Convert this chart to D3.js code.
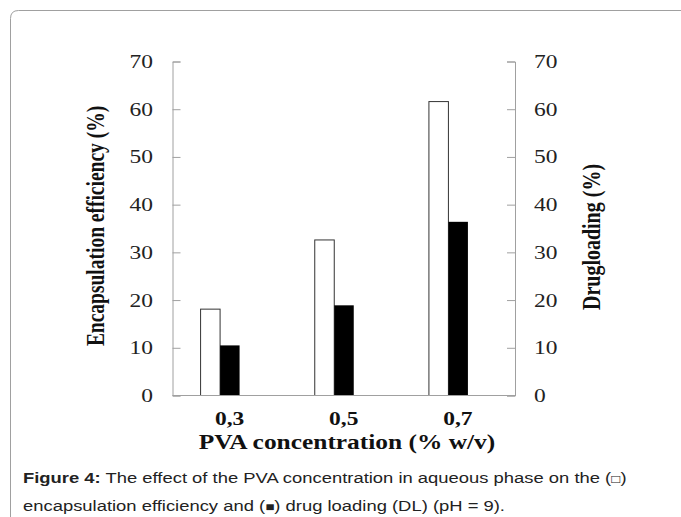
<!DOCTYPE html>
<html>
<head>
<meta charset="utf-8">
<script src="https://cdn.jsdelivr.net/npm/d3@7"></script>
<style>
html,body{margin:0;padding:0;background:#fff;}
svg{display:block;}
</style>
</head>
<body>
<svg id="chart" width="681" height="517"></svg>
<script>
// ---- data ----
const categories = ["0,3", "0,5", "0,7"];
const encapsulationEfficiency = [18.1, 32.6, 61.6];
const drugLoading = [10.5, 18.9, 36.4];
const yTicks = [0, 10, 20, 30, 40, 50, 60, 70];
const seriesNames = ["EE", "DL"];

const svg = d3.select("#chart");
const serif = "'Liberation Serif', 'Times New Roman', serif";
const sans = "'Liberation Sans', Arial, sans-serif";
const SX = 1.27; // horizontal stretch of the original figure's lettering

// frame
svg.append("path")
  .attr("d", "M10.5,700 L10.5,18.5 Q10.5,10.5 18.5,10.5 L700,10.5")
  .attr("fill", "none").attr("stroke", "#a0a0a0").attr("stroke-width", 1);

const pLeft = 172.5, pRight = 515, pTop = 61.5, pBottom = 395.5;

const x = d3.scaleBand().domain(categories).range([pLeft, pRight]).padding(0);
const yL = d3.scaleLinear().domain([0, 70]).range([pBottom, pTop]);
const yR = d3.scaleLinear().domain([0, 70]).range([pBottom, pTop]);
const bw = x.bandwidth();
const xs = d3.scaleBand().domain(seriesNames).range([bw / 2 - 29, bw / 2 + 10]);

const axisColor = "#a0a0a0";

function stretchTicks(sel) {
  sel.each(function () {
    const t = d3.select(this);
    const xv = +t.attr("x") || 0, yv = +t.attr("y") || 0;
    t.attr("x", 0).attr("y", 0).attr("transform", `translate(${xv},${yv}) scale(${SX},1)`);
  });
}

// bars
const g = svg.append("g");
const rows = categories.map((c, i) => ({ c, EE: encapsulationEfficiency[i], DL: drugLoading[i] }));
g.selectAll("rect.ee").data(rows).join("rect")
  .attr("class", "ee")
  .attr("x", d => x(d.c) + xs("EE"))
  .attr("width", xs.bandwidth())
  .attr("y", d => yL(d.EE))
  .attr("height", d => yL(0) - yL(d.EE))
  .attr("fill", "#fff").attr("stroke", "#333").attr("stroke-width", 1);
g.selectAll("rect.dl").data(rows).join("rect")
  .attr("class", "dl")
  .attr("x", d => x(d.c) + xs("DL"))
  .attr("width", xs.bandwidth())
  .attr("y", d => yR(d.DL))
  .attr("height", d => yR(0) - yR(d.DL))
  .attr("fill", "#000");

// left axis
const axL = svg.append("g").attr("transform", `translate(${pLeft},0)`)
  .call(d3.axisLeft(yL).tickValues(yTicks).tickSizeInner(-8).tickSizeOuter(-8).tickPadding(19.5));
axL.selectAll("path, line").attr("stroke", axisColor);
axL.selectAll("text").attr("font-family", serif).attr("font-size", 18.5).attr("fill", "#222")
  .call(stretchTicks);

// right axis
const axR = svg.append("g").attr("transform", `translate(${pRight},0)`)
  .call(d3.axisRight(yR).tickValues(yTicks).tickSizeInner(-8).tickSizeOuter(-8).tickPadding(19));
axR.selectAll("path, line").attr("stroke", axisColor);
axR.selectAll("text").attr("font-family", serif).attr("font-size", 18.5).attr("fill", "#222")
  .call(stretchTicks);

// bottom axis
const axB = svg.append("g").attr("transform", `translate(0,${pBottom})`)
  .call(d3.axisBottom(x).tickSize(0).tickPadding(16));
axB.select("path").attr("stroke", axisColor).attr("d", `M${pLeft},0H${pRight}`);
axB.selectAll("text").attr("font-family", serif).attr("font-size", 18.5)
  .attr("font-weight", "bold").attr("fill", "#111")
  .call(stretchTicks);

// axis titles
svg.append("text").attr("transform", `translate(347,449) scale(${SX},1)`)
  .attr("text-anchor", "middle").attr("font-family", serif).attr("font-size", 20)
  .attr("font-weight", "bold").attr("fill", "#111")
  .text("PVA concentration (% w/v)");

svg.append("text").attr("transform", `translate(104,226) scale(${SX},1) rotate(-90)`)
  .attr("text-anchor", "middle").attr("font-family", serif).attr("font-size", 19.5)
  .attr("font-weight", "bold").attr("fill", "#111")
  .text("Encapsulation efficiency (%)");

svg.append("text").attr("transform", `translate(600,237) scale(${SX},1) rotate(-90)`)
  .attr("text-anchor", "middle").attr("font-family", serif).attr("font-size", 20)
  .attr("font-weight", "bold").attr("fill", "#111")
  .text("Drugloading (%)");

// caption
const cap1 = svg.append("text").attr("transform", `translate(23,483) scale(${SX},1)`)
  .attr("font-family", sans).attr("font-size", 14.5).attr("fill", "#222");
cap1.append("tspan").attr("font-weight", "bold").text("Figure 4:");
cap1.append("tspan").text(" The effect of the PVA concentration in aqueous phase on the (");
cap1.append("tspan").attr("font-size", 12).text("\u25A1");
cap1.append("tspan").text(")");
const cap2 = svg.append("text").attr("transform", `translate(23,511) scale(${SX},1)`)
  .attr("font-family", sans).attr("font-size", 14.5).attr("fill", "#222");
cap2.append("tspan").text("encapsulation efficiency and (");
cap2.append("tspan").attr("font-size", 12).text("\u25A0");
cap2.append("tspan").text(") drug loading (DL) (pH = 9).");
</script>
</body>
</html>
